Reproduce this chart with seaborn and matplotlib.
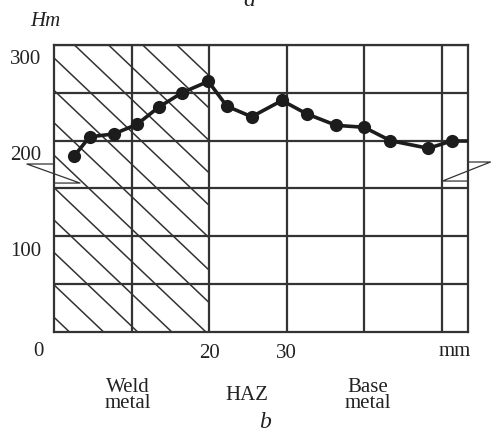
import matplotlib
matplotlib.use("Agg")
import matplotlib.pyplot as plt
import matplotlib.transforms as mtrans
from matplotlib.patches import Rectangle
import numpy as np
import pandas as pd
import seaborn as sns

# hardness profile across the weld (distance in mm, microhardness Hm)
POS_MM = [2.6, 4.6, 7.7, 10.7, 13.5, 16.5, 19.9, 22.3, 25.5, 29.4,
          32.6, 36.4, 40.0, 43.4, 48.3, 51.4]
HM = [184, 204, 207, 217, 235, 250, 262, 236, 225, 242,
      228, 216, 214, 200, 192, 200]

X_MAX = 53.4
X_GRID = [10, 20, 30, 40, 50]
X_LABELS = ["", "20", "30", "", ""]
Y_GRID = [50, 100, 150, 200, 250, 300]
Y_LABELS = ["", "100", "", "200", "", "300"]
WELD_END = 20

ZONES = ["Weld\nmetal", "HAZ", "Base\nmetal"]
ZONE_X = [9.5, 24.9, 40.5]

# base metal level marks on both sides
LEFT_FLAG_X = [0, -3.5, 3.35, 0]
LEFT_FLAG_Y = [175.6, 175.6, 155.7, 155.7]
RIGHT_FLAG_X = [X_MAX, 56.3, 50.1, X_MAX]
RIGHT_FLAG_Y = [177.7, 177.7, 157.8, 157.8]

GRID_COLOR = "#333333"
INK = "#1c1c1c"

sns.set_theme(style="white")
plt.rcParams["font.family"] = ["Liberation Serif", "DejaVu Serif"]
plt.rcParams["font.size"] = 15

fig = plt.figure(figsize=(4.91, 4.41), dpi=100)
ax = fig.add_axes([54 / 491, (441 - 332) / 441, (468 - 54) / 491, (332 - 45) / 441])
ax.set_facecolor("white")

df = pd.DataFrame({"Distance": POS_MM, "Hm": HM})

# hatched weld metal zone
clip = Rectangle((0, 0), WELD_END, 300, transform=ax.transData)
slope = -7.7
step = 4.4
for x0 in np.arange(-19.36 - step * 7, WELD_END + 1, step):
    xs = np.array([x0, x0 + 300 / -slope])
    ys = 300 + slope * (xs - x0)
    ln, = ax.plot(xs, ys, color=GRID_COLOR, lw=1.1, zorder=1)
    ln.set_clip_path(clip)

ax.set_xlim(0, X_MAX)
ax.set_ylim(0, 300)
ax.set_xticks(X_GRID, X_LABELS)
ax.set_yticks(Y_GRID, Y_LABELS)
ax.grid(True, color=GRID_COLOR, lw=1.6, zorder=2)
ax.set_axisbelow(True)
ax.tick_params(length=0, pad=9, labelsize=15, colors="#222222")
for lab in ax.get_yticklabels():
    lab.set_transform(lab.get_transform() + mtrans.ScaledTranslation(0, -9 / 72, fig.dpi_scale_trans))
for s in ax.spines.values():
    s.set_color(GRID_COLOR)
    s.set_linewidth(1.6)

sns.lineplot(data=df, x="Distance", y="Hm", ax=ax, color=INK, lw=2.6,
             marker="o", markersize=9.5, markeredgewidth=0, zorder=5)
ax.plot([POS_MM[-1], X_MAX], [HM[-1], HM[-1]], color=INK, lw=2.6, zorder=5,
        solid_capstyle="butt")
ax.set_xlabel("")
ax.set_ylabel("")

ax.plot(LEFT_FLAG_X, LEFT_FLAG_Y, color=GRID_COLOR, lw=0.9, clip_on=False, zorder=6)
ax.plot(RIGHT_FLAG_X, RIGHT_FLAG_Y, color=GRID_COLOR, lw=0.9, clip_on=False, zorder=6)

# labels outside the grid
ax.text(-2.0, -20, "0", ha="center", va="center", fontsize=15, color="#222222")
ax.text(51.7, -20, "mm", ha="center", va="center", fontsize=15, color="#222222")
for zx, zt in zip(ZONE_X, ZONES):
    ax.text(zx, -66, zt, ha="center", va="center", fontsize=15,
            linespacing=0.8, color="#222222", clip_on=False)
fig.text(45 / 491, 1 - 21 / 441, "Hm", style="italic", ha="center", va="center",
         fontsize=15, color="#222222")
fig.text(249 / 491, 1 - 6 / 441, "a", style="italic", ha="center", va="baseline",
         fontsize=17, color="#222222")
fig.text(265 / 491, 1 - 422 / 441, "b", style="italic", ha="center", va="center",
         fontsize=17, color="#222222")

fig.savefig("out.png", dpi=100)
